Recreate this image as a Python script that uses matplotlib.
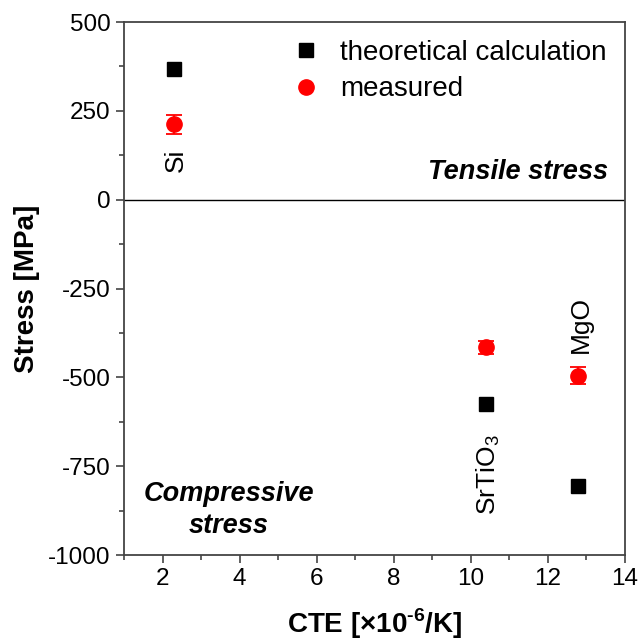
import matplotlib
matplotlib.use("Agg")
import matplotlib.pyplot as plt
from matplotlib.ticker import MultipleLocator
from matplotlib.lines import Line2D

plt.rcParams['font.family'] = ['Liberation Sans', 'DejaVu Sans']
plt.rcParams['axes.unicode_minus'] = False
plt.rcParams['mathtext.fontset'] = 'custom'
plt.rcParams['mathtext.rm'] = 'Liberation Sans:bold'
plt.rcParams['mathtext.bf'] = 'Liberation Sans:bold'

materials = ["Si", r"SrTiO$_{\mathregular{3}}$", "MgO"]
cte = [2.3, 10.4, 12.78]
theoretical = [367, -576, -805]
measured = [212, -415, -495]
measured_err = [27, 18, 25]

fig = plt.figure(figsize=(6.4, 6.42), dpi=100)
ax = fig.add_axes([124/640, 1-555/642, (625-124)/640, (555-22)/642])

ax.plot(cte, theoretical, 's', color='black', ms=10.5, zorder=3)
ax.errorbar(cte, measured, yerr=measured_err, fmt='o', color='red', ms=11,
            capsize=6, elinewidth=1.3, capthick=1.3, zorder=3)
ax.axhline(0, color='black', lw=1)

ax.set_xlim(1, 14)
ax.set_ylim(-1000, 500)
ax.xaxis.set_major_locator(MultipleLocator(2))
ax.xaxis.set_minor_locator(MultipleLocator(1))
ax.yaxis.set_major_locator(MultipleLocator(250))
ax.yaxis.set_minor_locator(MultipleLocator(125))
ax.tick_params(which='both', direction='out', labelsize=17.5, color='#444444')
ax.tick_params(which='major', length=6, width=1.2)
ax.tick_params(which='minor', length=3.5, width=1.2)
for s in ax.spines.values():
    s.set_color('#444444')
    s.set_linewidth(1.3)

ax.set_xlabel(r'CTE [$\times$10$^{\text{-6}}$/K]', fontsize=20, fontweight='bold', labelpad=12)
ax.set_ylabel('Stress [MPa]', fontsize=20, fontweight='bold', labelpad=6)

ax.text(cte[0] + 0.05, 110, materials[0], rotation=90, ha='center', va='center', fontsize=19)
ax.text(cte[1] + 0.05, -774, materials[1], rotation=90, ha='center', va='center', fontsize=19)
ax.text(cte[2] + 0.08, -432, materials[2], rotation=90, ha='center', va='bottom', fontsize=19)

ax.text(13.56, 77, 'Tensile stress', ha='right', va='center', fontsize=19.5,
        fontweight='bold', fontstyle='italic')
ax.text(3.72, -873, 'Compressive\nstress', ha='center', va='center', fontsize=19.5,
        fontweight='bold', fontstyle='italic', linespacing=1.3)

handles = [Line2D([], [], marker='s', color='black', ls='none', ms=10.5),
           Line2D([], [], marker='o', color='red', ls='none', ms=11)]
ax.legend(handles, ['theoretical calculation', 'measured'], loc='upper left',
          bbox_to_anchor=(0.335, 0.966), frameon=False, fontsize=20,
          handlelength=1.0, handletextpad=0.73, borderpad=0, borderaxespad=0,
          labelspacing=0.37)

fig.savefig('out.png', dpi=100)
